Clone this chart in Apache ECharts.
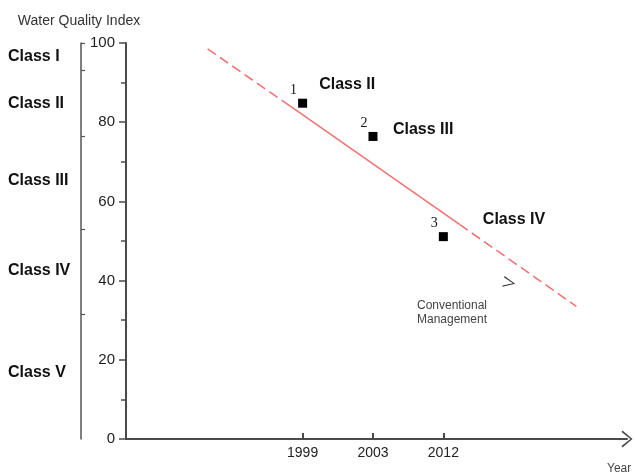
<!DOCTYPE html>
<html>
<head>
<meta charset="utf-8">
<script src="https://cdn.jsdelivr.net/npm/echarts@6/dist/echarts.min.js"></script>
<style>html,body{margin:0;padding:0;background:#fff}#c{width:635px;height:475px}</style>
</head>
<body>
<div id="c"></div>
<script>
// ---- data ----
const years = ['1999', '2003', '2012'];
const yearPos = [1, 2, 3];
const wqi = [84.8, 76.4, 51.1];
const pointLabels = ['1', '2', '3'];
const trendX = [-0.35, 0.82, 3.23, 4.89];
const trendY = [98.5, 84.1, 54.2, 33.5];
const classNames = ['Class I', 'Class II', 'Class III', 'Class IV', 'Class V'];
const classLabelAt = [96.6, 84.8, 65.3, 42.6, 16.8];
const classBounds = [31.5, 53, 76.5, 93, 100];
const annoText = ['Class II', 'Class III', 'Class IV', 'Conventional\nManagement'];
const annoX = [1.228, 2.277, 3.554, 2.618];
const annoY = [89.4, 78.1, 55.4, 31.8];
const arrowAt = [3.937, 39.5];

const FONT = '"Liberation Sans", Arial, sans-serif';
const axisColor = '#4a4a4a';
const red = '#f07272';

function nearestIdx(arr, v) {
  let b = 0;
  for (let i = 1; i < arr.length; i++) if (Math.abs(arr[i] - v) < Math.abs(arr[b] - v)) b = i;
  return b;
}

const chart = echarts.init(document.getElementById('c'));
chart.setOption({
  animation: false,
  backgroundColor: '#fff',
  grid: { left: 126, right: 8, top: 43, bottom: 36 },
  xAxis: {
    type: 'value', min: -1.51, max: 5.61,
    name: 'Year', nameLocation: 'end', nameGap: -20,
    nameTextStyle: { fontFamily: FONT, fontSize: 12, color: '#444', align: 'left', verticalAlign: 'top', padding: [24, 0, 0, 0] },
    axisLine: { show: true, onZero: false, lineStyle: { color: axisColor, width: 2 },
      symbol: ['none', 'path://M8.5,0 L17,10 L15.6,11 L8.5,2.2 L1.4,11 L0,10 Z'], symbolSize: [17, 11] },
    axisTick: { show: true, inside: true, length: 6, customValues: yearPos, lineStyle: { color: axisColor, width: 2 } },
    axisLabel: { show: true, customValues: yearPos, margin: 7, fontFamily: FONT, fontSize: 14, color: '#222',
      formatter: v => years[nearestIdx(yearPos, v)] },
    splitLine: { show: false }
  },
  yAxis: [
    {
      type: 'value', min: 0, max: 100, interval: 20, position: 'left',
      axisLine: { show: true, onZero: false, lineStyle: { color: axisColor, width: 2 } },
      axisTick: { show: true, length: 7, lineStyle: { color: axisColor, width: 1.5 } },
      minorTick: { show: true, splitNumber: 2, length: 5, lineStyle: { color: axisColor, width: 1.5 } },
      axisLabel: { margin: 11, fontFamily: FONT, fontSize: 15, color: '#222' },
      splitLine: { show: false }
    },
    {
      type: 'value', min: 0, max: 100, position: 'left', offset: 45,
      name: 'Water Quality Index', nameLocation: 'end', nameGap: 15,
      nameTextStyle: { fontFamily: FONT, fontSize: 14, color: '#333', padding: [0, 4, 0, 0] },
      axisLine: { show: true, onZero: false, lineStyle: { color: '#555', width: 1.5 } },
      axisTick: { show: true, inside: true, length: 4, customValues: classBounds, lineStyle: { color: '#555', width: 1.2 } },
      axisLabel: { customValues: classLabelAt, margin: 73, align: 'left', fontFamily: FONT, fontSize: 16, fontWeight: 'bold', color: '#111',
        formatter: v => classNames[nearestIdx(classLabelAt, v)] },
      splitLine: { show: false }
    }
  ],
  series: [
    { type: 'line', symbol: 'none', data: [[trendX[0], trendY[0]], [trendX[1], trendY[1]]],
      lineStyle: { color: red, width: 1.6, type: [10, 5] } },
    { type: 'line', symbol: 'none', data: [[trendX[1], trendY[1]], [trendX[2], trendY[2]]],
      lineStyle: { color: red, width: 1.6 } },
    { type: 'line', symbol: 'none', data: [[trendX[2], trendY[2]], [trendX[3], trendY[3]]],
      lineStyle: { color: red, width: 1.6, type: [10, 5] } },
    { type: 'scatter', symbol: 'rect', symbolSize: 9, itemStyle: { color: '#000', opacity: 1 },
      data: yearPos.map((x, i) => [x, wqi[i]]),
      label: { show: true, position: 'inside', offset: [-9, -13], fontFamily: '"Liberation Serif", serif', fontSize: 14, color: '#111',
        formatter: p => pointLabels[p.dataIndex] } },
    { type: 'scatter', symbolSize: 1, itemStyle: { color: 'rgba(0,0,0,0)', opacity: 1 }, silent: true,
      data: annoText.map((t, i) => {
        const isNote = t.indexOf('\n') >= 0;
        return { value: [annoX[i], annoY[i]], name: t,
          label: { show: true, position: 'right', distance: 0, formatter: t, fontFamily: FONT,
            fontSize: isNote ? 12 : 16, fontWeight: isNote ? 'normal' : 'bold', color: isNote ? '#444' : '#111',
            lineHeight: isNote ? 14 : 18 } };
      }) },
    { type: 'scatter', silent: true, data: [arrowAt],
      symbol: 'path://M0,0 L12,5.5 L0,11 L0,9.6 L9.8,5.5 L0,1.4 Z', symbolSize: [12, 11], symbolRotate: -11,
      itemStyle: { color: '#333', opacity: 1 } }
  ]
});
</script>
</body>
</html>
